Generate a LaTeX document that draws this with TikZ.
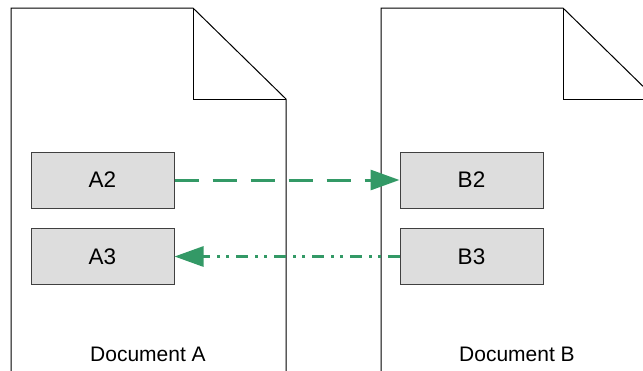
\documentclass[tikz,border=0pt]{standalone}
\usepackage{fontspec}
\setmainfont{Liberation Sans}
\usetikzlibrary{arrows.meta}
\definecolor{linkgreen}{HTML}{339966}
\definecolor{boxfill}{HTML}{DDDDDD}
\tikzset{
  docline/.style={draw=black, line width=1pt},
  itembox/.style={draw=black!75, fill=boxfill, line width=1pt, minimum width=143pt, minimum height=56pt, inner sep=0pt, font=\fontsize{22.5}{26}\selectfont},
  doclabel/.style={anchor=base, inner sep=0pt, font=\fontsize{21}{25}\selectfont},
  linkarrow/.style={draw=linkgreen, line width=3pt, -{Triangle[length=29pt, width=20pt]}},
  dashlink/.style={linkarrow, dash pattern=on 24pt off 14pt},
  dotlink/.style={linkarrow, dash pattern=on 11.5pt off 7pt on 3pt off 6.5pt on 3pt off 7pt}
}
\begin{document}
\begin{tikzpicture}[x=1pt, y=-1pt]
\useasboundingbox (0,0) rectangle (643,370);
\clip (0,0) rectangle (643,370);
% Document A
\draw[docline] (11,380) -- (11,8) -- (193,8) -- (286,99) -- (286,380);
\draw[docline] (193,8) -- (193,99) -- (286,99);
% Document B
\draw[docline] (381,380) -- (381,8) -- (563,8) -- (656,99) -- (656,380);
\draw[docline] (563,8) -- (563,99) -- (656,99);
% boxes
\node[itembox] (a2) at (102.5,180) {A2};
\node[itembox] (a3) at (102.5,256.5) {A3};
\node[itembox] (b2) at (471.5,180) {B2};
\node[itembox] (b3) at (471.5,256.5) {B3};
% labels
\node[doclabel] (la) at (148,361) {Document A};
\node[doclabel] (lb) at (517,361) {Document B};
% connectors
\draw[dashlink] (a2.east) -- (b2.west);
\draw[dotlink] (b3.west) -- (a3.east);
\end{tikzpicture}
\end{document}
